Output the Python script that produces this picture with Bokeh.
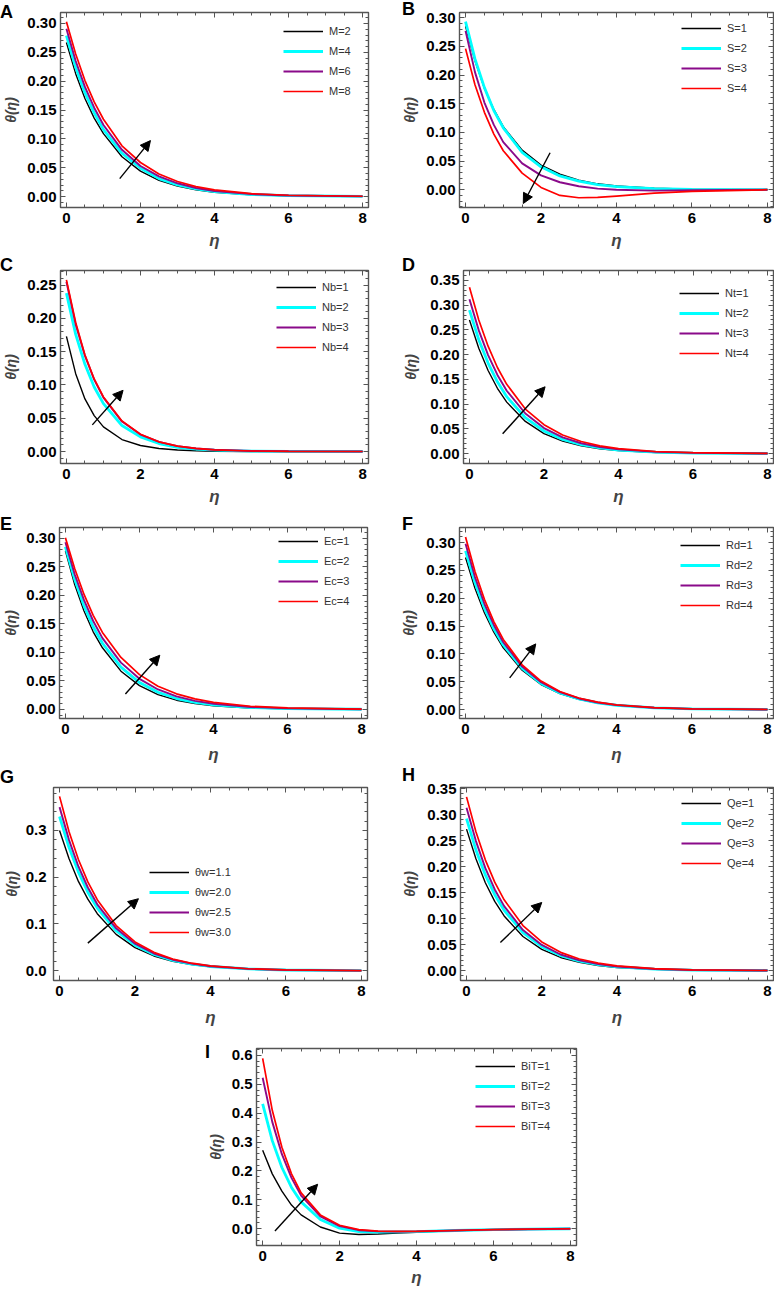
import math
from bokeh.plotting import figure
from bokeh.models import (Legend, LegendItem, Arrow, NormalHead, FixedTicker, Div,
                          LinearAxis, NumeralTickFormatter, Range1d, Spacer)
from bokeh.layouts import column, row
from bokeh.embed import file_html
from bokeh.resources import INLINE

# ---------------- data ----------------
eta = [0, 0.25, 0.5, 0.75, 1, 1.5, 2, 2.5, 3, 3.5, 4, 5, 6, 8]

A_labels = ["M=2", "M=4", "M=6", "M=8"]
A_s1 = [0.267, 0.213, 0.170, 0.136, 0.109, 0.069, 0.044, 0.028, 0.018, 0.0115, 0.0073, 0.0030, 0.0012, 0.0002]
A_s2 = [0.279, 0.224, 0.180, 0.145, 0.116, 0.075, 0.049, 0.031, 0.020, 0.0131, 0.0084, 0.0035, 0.0015, 0.0003]
A_s3 = [0.291, 0.235, 0.190, 0.154, 0.124, 0.081, 0.053, 0.035, 0.023, 0.0148, 0.0097, 0.0042, 0.0018, 0.0003]
A_s4 = [0.303, 0.247, 0.201, 0.164, 0.134, 0.088, 0.059, 0.039, 0.026, 0.0172, 0.0115, 0.0050, 0.0022, 0.0005]

B_labels = ["S=1", "S=2", "S=3", "S=4"]
B_s1 = [0.285, 0.225, 0.177, 0.140, 0.110, 0.069, 0.043, 0.027, 0.0165, 0.0103, 0.0064, 0.0025, 0.0009, 0.0001]
B_s2 = [0.293, 0.228, 0.178, 0.138, 0.108, 0.065, 0.040, 0.024, 0.015, 0.0088, 0.0054, 0.0020, 0.0007, 0.0001]
B_s3 = [0.277, 0.205, 0.152, 0.113, 0.083, 0.046, 0.025, 0.013, 0.006, 0.002, 0.000, -0.0015, -0.001, 0.0]
B_s4 = [0.246, 0.183, 0.135, 0.097, 0.068, 0.029, 0.004, -0.010, -0.014, -0.0135, -0.011, -0.006, -0.003, 0.0]

C_labels = ["Nb=1", "Nb=2", "Nb=3", "Nb=4"]
C_s1 = [0.173, 0.117, 0.079, 0.054, 0.037, 0.018, 0.009, 0.0045, 0.0022, 0.0011, 0.0005, 0.0001, 0.0, 0.0]
C_s2 = [0.238, 0.176, 0.131, 0.097, 0.072, 0.039, 0.022, 0.012, 0.0064, 0.0036, 0.002, 0.0006, 0.0002, 0.0]
C_s3 = [0.255, 0.191, 0.144, 0.108, 0.081, 0.045, 0.0255, 0.0144, 0.0081, 0.0046, 0.0026, 0.0008, 0.0003, 0.0]
C_s4 = [0.258, 0.194, 0.145, 0.109, 0.082, 0.046, 0.026, 0.0146, 0.0082, 0.0046, 0.0026, 0.0008, 0.0003, 0.0]

D_labels = ["Nt=1", "Nt=2", "Nt=3", "Nt=4"]
D_s1 = [0.270, 0.213, 0.168, 0.132, 0.104, 0.065, 0.0405, 0.0251, 0.0157, 0.0097, 0.006, 0.0023, 0.0009, 0.0001]
D_s2 = [0.290, 0.230, 0.183, 0.145, 0.115, 0.0725, 0.0457, 0.0287, 0.0181, 0.0115, 0.0072, 0.0029, 0.0011, 0.0002]
D_s3 = [0.312, 0.249, 0.199, 0.159, 0.127, 0.081, 0.0515, 0.0328, 0.0209, 0.0134, 0.0085, 0.0035, 0.0014, 0.0002]
D_s4 = [0.336, 0.270, 0.217, 0.174, 0.140, 0.090, 0.0585, 0.0376, 0.0244, 0.0157, 0.0101, 0.0043, 0.0018, 0.0003]

E_labels = ["Ec=1", "Ec=2", "Ec=3", "Ec=4"]
E_s1 = [0.278, 0.219, 0.173, 0.136, 0.108, 0.067, 0.0417, 0.0259, 0.0161, 0.0100, 0.0062, 0.0024, 0.0009, 0.0001]
E_s2 = [0.285, 0.228, 0.182, 0.145, 0.116, 0.074, 0.047, 0.030, 0.019, 0.0122, 0.0078, 0.0032, 0.0013, 0.0002]
E_s3 = [0.293, 0.237, 0.192, 0.155, 0.125, 0.082, 0.0536, 0.0349, 0.0229, 0.0149, 0.0098, 0.0042, 0.0018, 0.0003]
E_s4 = [0.301, 0.247, 0.202, 0.165, 0.135, 0.091, 0.061, 0.0406, 0.0273, 0.0183, 0.0123, 0.0055, 0.0025, 0.0005]

F_labels = ["Rd=1", "Rd=2", "Rd=3", "Rd=4"]
F_s1 = [0.273, 0.218, 0.174, 0.139, 0.111, 0.0707, 0.045, 0.0287, 0.0183, 0.0117, 0.0075, 0.0030, 0.0012, 0.0002]
F_s2 = [0.285, 0.228, 0.182, 0.145, 0.116, 0.0738, 0.047, 0.0299, 0.0191, 0.0122, 0.0078, 0.0032, 0.0013, 0.0002]
F_s3 = [0.298, 0.238, 0.190, 0.152, 0.121, 0.0772, 0.0492, 0.0313, 0.0200, 0.0128, 0.0081, 0.0033, 0.0013, 0.0002]
F_s4 = [0.310, 0.248, 0.198, 0.158, 0.126, 0.0803, 0.0512, 0.0326, 0.0208, 0.0133, 0.0085, 0.0034, 0.0014, 0.0002]

G_labels = ["θw=1.1", "θw=2.0", "θw=2.5", "θw=3.0"]
G_s1 = [0.300, 0.240, 0.191, 0.153, 0.122, 0.0777, 0.0495, 0.0315, 0.0201, 0.0129, 0.0082, 0.0033, 0.0014, 0.0002]
G_s2 = [0.330, 0.264, 0.211, 0.168, 0.134, 0.0855, 0.0545, 0.0347, 0.0221, 0.0142, 0.0090, 0.0037, 0.0015, 0.0002]
G_s3 = [0.350, 0.280, 0.223, 0.178, 0.142, 0.0907, 0.0578, 0.0368, 0.0235, 0.0150, 0.0096, 0.0039, 0.0016, 0.0002]
G_s4 = [0.373, 0.298, 0.238, 0.190, 0.152, 0.0966, 0.0615, 0.0392, 0.0250, 0.0160, 0.0102, 0.0041, 0.0017, 0.0003]

H_labels = ["Qe=1", "Qe=2", "Qe=3", "Qe=4"]
H_s1 = [0.272, 0.215, 0.169, 0.133, 0.105, 0.0656, 0.0408, 0.0253, 0.0158, 0.0098, 0.0061, 0.0024, 0.0009, 0.0001]
H_s2 = [0.292, 0.232, 0.184, 0.146, 0.116, 0.073, 0.046, 0.0289, 0.0183, 0.0115, 0.0073, 0.0029, 0.0011, 0.0002]
H_s3 = [0.313, 0.249, 0.197, 0.156, 0.124, 0.078, 0.0493, 0.031, 0.0196, 0.0124, 0.0078, 0.0031, 0.0012, 0.0002]
H_s4 = [0.334, 0.267, 0.213, 0.170, 0.136, 0.0865, 0.0551, 0.0351, 0.0224, 0.0143, 0.0091, 0.0037, 0.0015, 0.0002]

I_labels = ["BiT=1", "BiT=2", "BiT=3", "BiT=4"]
I_s1 = [0.272, 0.190, 0.130, 0.082, 0.048, 0.006, -0.015, -0.020, -0.018, -0.015, -0.012, -0.006, -0.003, 0.0]
I_s2 = [0.432, 0.305, 0.212, 0.143, 0.093, 0.032, 0.002, -0.010, -0.012, -0.011, -0.010, -0.006, -0.003, 0.0]
I_s3 = [0.523, 0.370, 0.258, 0.176, 0.115, 0.043, 0.009, -0.005, -0.009, -0.010, -0.009, -0.006, -0.003, 0.0]
I_s4 = [0.590, 0.410, 0.282, 0.190, 0.124, 0.048, 0.012, -0.003, -0.008, -0.009, -0.009, -0.006, -0.003, 0.0]

# arrows: [eta_start, theta_start, eta_end, theta_end]
A_arrow = [1.44, 0.031, 2.27, 0.097]
B_arrow = [2.24, 0.0645, 1.53, -0.024]
C_arrow = [0.70, 0.040, 1.53, 0.092]
D_arrow = [0.89, 0.040, 2.03, 0.135]
E_arrow = [1.62, 0.027, 2.55, 0.095]
F_arrow = [1.17, 0.057, 1.86, 0.118]
G_arrow = [0.75, 0.059, 2.09, 0.154]
H_arrow = [0.90, 0.054, 2.00, 0.131]
I_arrow = [0.32, -0.008, 1.43, 0.154]

x_ticks = [0, 2, 4, 6, 8]
y_ticks_a = [0.0, 0.05, 0.10, 0.15, 0.20, 0.25, 0.30]
y_ticks_c = [0.0, 0.05, 0.10, 0.15, 0.20, 0.25]
y_ticks_d = [0.0, 0.05, 0.10, 0.15, 0.20, 0.25, 0.30, 0.35]
y_ticks_g = [0.0, 0.1, 0.2, 0.3]
y_ticks_i = [0.0, 0.1, 0.2, 0.3, 0.4, 0.5, 0.6]

panel_letters = ["A", "B", "C", "D", "E", "F", "G", "H", "I"]

# ---------------- styling ----------------
COLORS = ["#000000", "#00FFFF", "#8A0A8A", "#FF0000"]
WIDTHS = [1.4, 2.8, 1.9, 1.7]
FONT = "Liberation Sans"
GRAY = "#555555"


def style_axis(ax, show_labels, standoff=5):
    ax.axis_line_color = None
    ax.major_tick_in = 5
    ax.major_tick_out = 0
    ax.minor_tick_in = 3
    ax.minor_tick_out = 0
    ax.major_tick_line_color = GRAY
    ax.minor_tick_line_color = GRAY
    ax.major_tick_line_width = 1
    ax.minor_tick_line_width = 1
    ax.major_label_text_font = FONT
    ax.major_label_text_font_style = "bold"
    if show_labels:
        ax.major_label_text_color = "#000000"
        ax.major_label_text_font_size = "15px"
        ax.major_label_standoff = standoff
    else:
        ax.major_label_text_alpha = 0
        ax.major_label_text_color = None
        ax.major_label_text_font_size = "1px"
        ax.major_label_standoff = 0


def panel(labels, series, yr, yticks, ystep_minor, yfmt, arrow, leg_xy, geom,
          ytick_so, ylab_so, xlab_so):
    bl, fw, br, bt, fh, bb = geom
    W, H = bl + fw + br, bt + fh + bb
    p = figure(width=W, height=H,
               x_range=Range1d(-0.16, 8.16), y_range=Range1d(*yr),
               min_border_left=bl, min_border_right=br, min_border_top=bt, min_border_bottom=bb,
               x_axis_location=None, y_axis_location=None,
               output_backend="svg", toolbar_location=None)
    p.grid.visible = False
    p.outline_line_color = GRAY
    p.outline_line_width = 1.4
    p.background_fill_color = "white"
    p.border_fill_color = "white"

    xminor = [0.5 * i for i in range(17)]
    n0 = int(math.floor(yr[0] / ystep_minor))
    n1 = int(math.ceil(yr[1] / ystep_minor))
    yminor = [round(k * ystep_minor, 4) for k in range(n0, n1 + 1)]

    xb = LinearAxis(ticker=FixedTicker(ticks=x_ticks, minor_ticks=xminor))
    style_axis(xb, True, 5)
    xb.axis_label = "η"
    xb.axis_label_text_font = FONT
    xb.axis_label_text_font_style = "bold italic"
    xb.axis_label_text_font_size = "17px"
    xb.axis_label_standoff = xlab_so
    p.add_layout(xb, "below")

    xt = LinearAxis(ticker=FixedTicker(ticks=x_ticks, minor_ticks=xminor))
    style_axis(xt, False)
    p.add_layout(xt, "above")

    yl = LinearAxis(ticker=FixedTicker(ticks=yticks, minor_ticks=yminor),
                    formatter=NumeralTickFormatter(format=yfmt))
    style_axis(yl, True, ytick_so)
    yl.axis_label = "θ(η)"
    yl.axis_label_text_font = FONT
    yl.axis_label_text_font_style = "bold italic"
    yl.axis_label_text_font_size = "14px"
    yl.axis_label_standoff = ylab_so
    p.add_layout(yl, "left")

    yr_ax = LinearAxis(ticker=FixedTicker(ticks=yticks, minor_ticks=yminor))
    style_axis(yr_ax, False)
    p.add_layout(yr_ax, "right")

    items = []
    for lab, ys, c, w in zip(labels, series, COLORS, WIDTHS):
        r = p.line(eta, ys, line_color=c, line_width=w)
        items.append(LegendItem(label=lab, renderers=[r]))
    leg = Legend(items=items, location=leg_xy, padding=0, spacing=0, margin=0,
                 glyph_width=40, glyph_height=20, label_height=20, label_standoff=6,
                 label_text_font=FONT, label_text_font_size="11px", label_text_color="#333333",
                 border_line_color=None, background_fill_alpha=0)
    p.add_layout(leg)

    p.add_layout(Arrow(end=NormalHead(size=10, fill_color="black", line_color="black", line_width=1),
                       x_start=arrow[0], y_start=arrow[1], x_end=arrow[2], y_end=arrow[3],
                       line_color="black", line_width=1.4))
    return p


#                 geometry: (border_left, frame_w, border_right, border_top, frame_h, border_bottom)
pA = panel(A_labels, [A_s1, A_s2, A_s3, A_s4], (-0.019, 0.319), y_ticks_a, 0.01, "0.00",
           A_arrow, (223, 106), (54, 314, 22, 12, 195, 49), 4, 5, 5)
pB = panel(B_labels, [B_s1, B_s2, B_s3, B_s4], (-0.031, 0.309), y_ticks_a, 0.01, "0.00",
           B_arrow, (222, 109), (69, 314, 1, 12, 195, 49), 4, 5, 5)
pC = panel(C_labels, [C_s1, C_s2, C_s3, C_s4], (-0.018, 0.272), y_ticks_c, 0.01, "0.00",
           C_arrow, (216, 106), (54, 314, 22, 12, 195, 51), 4, 5, 5)
pD = panel(D_labels, [D_s1, D_s2, D_s3, D_s4], (-0.020, 0.370), y_ticks_d, 0.01, "0.00",
           D_arrow, (216, 100), (73, 310, 1, 14, 193, 51), 4, 8, 5)
pE = panel(E_labels, [E_s1, E_s2, E_s3, E_s4], (-0.016, 0.319), y_ticks_a, 0.01, "0.00",
           E_arrow, (219, 107), (53, 314, 23, 12, 192, 50), 4, 4, 8)
pF = panel(F_labels, [F_s1, F_s2, F_s3, F_s4], (-0.016, 0.327), y_ticks_a, 0.01, "0.00",
           F_arrow, (221, 103), (69, 314, 1, 13, 191, 50), 4, 6, 8)
pG = panel(G_labels, [G_s1, G_s2, G_s3, G_s4], (-0.021, 0.392), y_ticks_g, 0.02, "0.0",
           G_arrow, (96, 38), (47, 320, 23, 15, 197, 50), 7, 3, 9)
pH = panel(H_labels, [H_s1, H_s2, H_s3, H_s4], (-0.019, 0.352), y_ticks_d, 0.01, "0.00",
           H_arrow, (221, 107), (70, 313, 1, 19, 193, 50), 4, 6, 9)
pI = panel(I_labels, [I_s1, I_s2, I_s3, I_s4], (-0.058, 0.624), y_ticks_i, 0.02, "0.0",
           I_arrow, (219, 109), (61, 320, 24, 18, 198, 43), 4, 5, 4)

# panel letters as absolutely positioned HTML text (page pixel positions)
letter_pos = [(0, 3), (402, 0), (0, 256), (402, 256), (0, 515), (402, 515),
              (0, 768), (402, 766), (205, 1043)]
letter_divs = []
for t, (lx, ly) in zip(panel_letters, letter_pos):
    letter_divs.append(Div(text=t, width=18, height=18,
                           styles={"position": "absolute", "left": f"{lx}px", "top": f"{ly}px",
                                   "font-family": FONT, "font-weight": "bold", "font-size": "18px",
                                   "line-height": "18px", "color": "#000000", "z-index": "20",
                                   "margin": "0", "padding": "0"}))

layout = column(row(pA, pB), row(pC, pD), row(pE, pF), row(pG, pH),
                row(Spacer(width=195, height=259), pI), *letter_divs)

open("out.html", "w").write(file_html(layout, INLINE))
